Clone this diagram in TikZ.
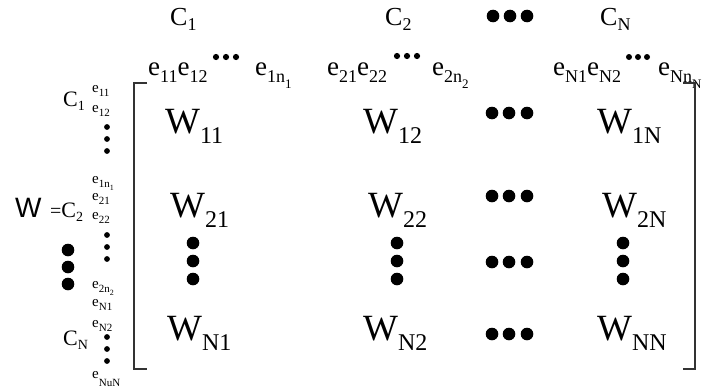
\documentclass[tikz,border=0pt]{standalone}
\usepackage{fontspec}
\setmainfont{Liberation Serif}
\newfontfamily\arialf{Liberation Sans}
\newcommand\fs[1]{\fontsize{#1}{#1}\selectfont}
\newcommand\lw[3]{\raisebox{-#1pt}{\fs{#2}#3}}
\newcommand\ea[1]{{\fs{27}e\lw{7}{18}{#1}}}
\newcommand\eb[2]{{\fs{27}e\lw{7}{18}{#1}\lw{13}{13}{#2}}}
\newcommand\es[1]{{\fs{15}e\lw{4}{11}{#1}}}
\newcommand\esb[2]{{\fs{15}e\lw{4}{11}{#1}\lw{7}{8}{#2}}}
\newcommand\Wm[1]{{\fs{37}W\lw{10}{24}{#1}}}
\newcommand\Ct[1]{{\fs{26}C\lw{5}{18}{#1}}}
\newcommand\Cl[1]{{\fs{22}C\lw{4}{14}{#1}}}
\begin{document}
\begin{tikzpicture}[x=1pt,y=-1pt,
  txt/.style={inner sep=0pt, anchor=base west},
  bracket/.style={draw=black!80, line width=1.3pt},
  bigdot/.style={fill=black},
  smalldot/.style={fill=black}]
\useasboundingbox (0,0) rectangle (708,391);
% top cluster labels
\node[txt] (c1) at (170,25) {\Ct{1}};
\node[txt] (c2) at (385,25) {\Ct{2}};
\node[txt] (cn) at (600,25) {\Ct{N}};
\foreach \x in {493,510,527} \fill[bigdot] (\x,16) circle (6.3pt);
% element row
\node[txt] (e1a) at (148,75) {\ea{11}\ea{12}};
\node[txt] (e1b) at (255,75) {\eb{1n}{1}};
\node[txt] (e2a) at (327,75) {\ea{21}\ea{22}};
\node[txt] (e2b) at (432,75) {\eb{2n}{2}};
\node[txt] (ena) at (553,75) {\ea{N1}\ea{N2}};
\node[txt] (enb) at (658,75) {\eb{Nn}{N}};
\foreach \x in {216,226,236} \fill[smalldot] (\x,57) circle (3.1pt);
\foreach \x in {397,407,417} \fill[smalldot] (\x,56) circle (3.1pt);
\foreach \x in {629,638,647} \fill[smalldot] (\x,57) circle (3pt);
% brackets
\draw[bracket] (147,83) -- (134,83) -- (134,369) -- (147,369);
\draw[bracket] (683,83) -- (695,83) -- (695,369) -- (683,369);
% W entries
\node[txt] (w11) at (165,133) {\Wm{11}};
\node[txt] (w12) at (363,133) {\Wm{12}};
\node[txt] (w1n) at (597,133) {\Wm{1N}};
\node[txt] (w21) at (170,217) {\Wm{21}};
\node[txt] (w22) at (368,217) {\Wm{22}};
\node[txt] (w2n) at (602,217) {\Wm{2N}};
\node[txt] (wn1) at (167,340) {\Wm{N1}};
\node[txt] (wn2) at (363,340) {\Wm{N2}};
\node[txt] (wnn) at (597,340) {\Wm{NN}};
\foreach \y in {113,196,262,334}
  \foreach \x in {492,509,527} \fill[bigdot] (\x,\y) circle (6.3pt);
\foreach \x in {193,397,623}
  \foreach \y in {243,261,279} \fill[bigdot] (\x,\y) circle (6.3pt);
% left side labels
\node[txt] (wbig) at (15,217) {\arialf\fs{28}W};
\node[txt] (eqc2) at (50,217) {{\fs{20}=}\Cl{2}};
\node[txt] (lc1) at (63,106) {\Cl{1}};
\node[txt] (lcn) at (63,345) {\Cl{N}};
\node[txt] (l11) at (92,92) {\es{11}};
\node[txt] (l12) at (92,112) {\es{12}};
\node[txt] (l1n) at (92,183) {\esb{1n}{1}};
\node[txt] (l21) at (92,200) {\es{21}};
\node[txt] (l22) at (92,219) {\es{22}};
\node[txt] (l2n) at (92,288) {\esb{2n}{2}};
\node[txt] (ln1) at (92,306) {\es{N1}};
\node[txt] (ln2) at (92,327) {\es{N2}};
\node[txt] (lnn) at (92,378) {{\fs{15}e\lw{8}{11}{NuN}}};
\foreach \y in {127,139,151,235,247,259,337,349,361} \fill[smalldot] (107,\y) circle (2.9pt);
\foreach \y in {250,267,284} \fill[bigdot] (68,\y) circle (6.3pt);
\end{tikzpicture}
\end{document}
